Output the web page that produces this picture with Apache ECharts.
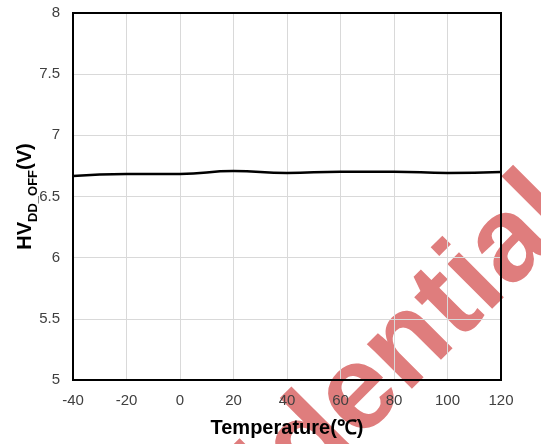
<!DOCTYPE html>
<html>
<head>
<meta charset="utf-8">
<script src="https://cdn.jsdelivr.net/npm/echarts@6/dist/echarts.min.js"></script>
<style>
  html, body { margin: 0; padding: 0; background: #fff; }
  #main { width: 541px; height: 444px; }
</style>
</head>
<body>
<div id="main"></div>
<script>
// 温度 (°C) 与 HVDD_OFF (V)
var temps = [-40, -20, 0, 20, 40, 60, 80, 100, 120];
var hvddOff = [6.668, 6.684, 6.684, 6.708, 6.692, 6.703, 6.703, 6.692, 6.700];
var xTicks = { min: -40, max: 120, interval: 20 };
var yTicks = { min: 5, max: 8, interval: 0.5 };
var watermark = 'Confidential';

var seriesData = [];
for (var i = 0; i < temps.length; i++) {
    seriesData.push([temps[i], hvddOff[i]]);
}

var myChart = echarts.init(document.getElementById('main'));
var option = {
    backgroundColor: '#fff',
    animation: false,
    grid: {
        left: 73,
        right: 40,
        top: 13,
        bottom: 64,
        show: true,
        borderColor: '#000',
        borderWidth: 2,
        z: 3
    },
    graphic: [
        {
            type: 'text',
            x: 312,
            y: 442,
            rotation: Math.PI / 4,
            z: -10,
            silent: true,
            style: {
                text: watermark,
                fill: '#df7d7d',
                font: 'bold 120px "Liberation Sans", Arial, sans-serif',
                align: 'center',
                verticalAlign: 'middle'
            }
        }
    ],
    xAxis: {
        type: 'value',
        min: xTicks.min,
        max: xTicks.max,
        interval: xTicks.interval,
        name: 'Temperature(℃)',
        nameLocation: 'middle',
        nameGap: 38,
        nameMoveOverlap: false,
        nameTextStyle: {
            color: '#000',
            fontSize: 20,
            fontWeight: 'bold',
            fontFamily: '"Liberation Sans", Arial, sans-serif'
        },
        axisLine: { show: true, onZero: false, lineStyle: { color: '#000', width: 2 } },
        axisTick: { show: false },
        axisLabel: {
            color: '#404040',
            fontSize: 15,
            margin: 13,
            fontFamily: '"Liberation Sans", Arial, sans-serif'
        },
        splitLine: { show: true, lineStyle: { color: '#d9d9d9', width: 1 } }
    },
    yAxis: {
        type: 'value',
        min: yTicks.min,
        max: yTicks.max,
        interval: yTicks.interval,
        name: '{a|HV}{b|DD_OFF}{a|(V)}',
        nameLocation: 'middle',
        nameRotate: 90,
        nameGap: 33,
        nameMoveOverlap: false,
        nameTextStyle: {
            color: '#000',
            fontFamily: '"Liberation Sans", Arial, sans-serif',
            rich: {
                a: { fontSize: 20, fontWeight: 'bold', color: '#000', verticalAlign: 'bottom', padding: [0, 0, 5, 0] },
                b: { fontSize: 13, fontWeight: 'bold', color: '#000', verticalAlign: 'bottom' }
            }
        },
        axisLine: { show: true, onZero: false, lineStyle: { color: '#000', width: 2 } },
        axisTick: { show: false },
        axisLabel: {
            color: '#404040',
            fontSize: 15,
            margin: 13,
            fontFamily: '"Liberation Sans", Arial, sans-serif'
        },
        splitLine: { show: true, lineStyle: { color: '#d9d9d9', width: 1 } }
    },
    series: [
        {
            type: 'line',
            data: seriesData,
            smooth: true,
            symbol: 'none',
            lineStyle: { color: '#000', width: 2.5 },
            z: 5
        }
    ]
};
myChart.setOption(option);
</script>
</body>
</html>
